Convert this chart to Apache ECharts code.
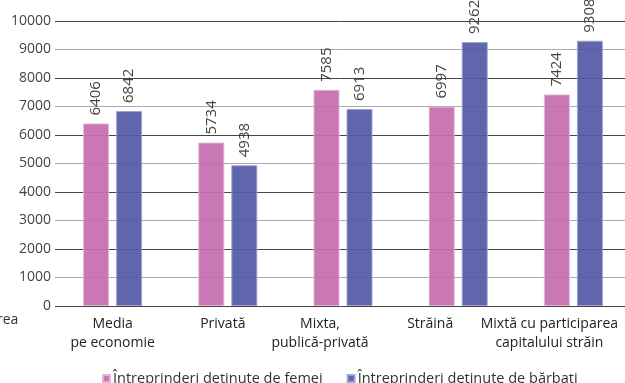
<!DOCTYPE html>
<html>
<head>
<meta charset="utf-8">
<script src="https://cdn.jsdelivr.net/npm/echarts@6/dist/echarts.min.js"></script>
<style>
  html, body { margin: 0; padding: 0; background: #fff; }
  #chart { width: 625px; height: 383px; }
</style>
</head>
<body>
<div id="chart"></div>
<script>
const categories = [
  "Media\npe economie",
  "Privată",
  "Mixta,\npublică-privată",
  "Străină",
  "Mixtă cu participarea\ncapitalului străin"
];
const seriesNames = ["Întreprinderi deținute de femei", "Întreprinderi deținute de bărbați"];
const women = [6406, 5734, 7585, 6997, 7424];
const men = [6842, 4938, 6913, 9262, 9308];

// how far each category label sits left of its bar pair in the original
const labelShift = [0, 5, 23, 28, 24];

const font = "'Open Sans', sans-serif";
const myChart = echarts.init(document.getElementById("chart"));

const labelStyle = {
  show: true,
  position: "top",
  rotate: 90,
  align: "left",
  verticalAlign: "middle",
  distance: 8,
  color: "#333",
  fontSize: 15,
  fontFamily: font
};

const option = {
  animation: false,
  color: ["#c46cae", "#5159a4"],
  grid: { left: 55, top: 21, width: 576, bottom: 77, outerBoundsMode: "none", containLabel: false },
  legend: {
    top: 366,
    left: 97,
    itemWidth: 7,
    itemHeight: 7,
    itemGap: 24,
    icon: "rect",
    textStyle: { fontSize: 14.5, color: "#333", fontFamily: font, padding: [0, 0, 0, -2] },
    data: seriesNames
  },
  graphic: [
    {
      type: "text",
      left: -3,
      top: 313,
      style: { text: "rea", fontSize: 14, fill: "#333", fontFamily: font }
    }
  ],
  xAxis: {
    type: "category",
    data: categories.map((c, i) => ({
      value: c,
      textStyle: { padding: [0, labelShift[i] * 2, 0, 0] }
    })),
    axisTick: { show: false },
    axisLine: { show: false },
    axisLabel: {
      interval: 0,
      margin: 9,
      color: "#222",
      fontSize: 14,
      lineHeight: 19,
      fontFamily: font,
      hideOverlap: false
    }
  },
  yAxis: {
    type: "value",
    min: 0,
    max: 10000,
    interval: 1000,
    axisLine: { show: false },
    axisTick: { show: false },
    axisLabel: {
      margin: 4,
      color: "#444",
      fontSize: 14,
      fontFamily: font,
      formatter: (v) => String(v)
    },
    splitLine: { lineStyle: { color: ["#444", "#aaa"], width: 1 } }
  },
  series: [
    {
      name: seriesNames[0],
      type: "bar",
      data: women,
      barWidth: 26,
      barGap: "27%",
      itemStyle: { opacity: 0.92, borderColor: "#e3b5d8", borderWidth: 1 },
      label: labelStyle
    },
    {
      name: seriesNames[1],
      type: "bar",
      data: men,
      barWidth: 26,
      itemStyle: { opacity: 0.92, borderColor: "#9da2cf", borderWidth: 1 },
      label: labelStyle
    }
  ]
};

myChart.setOption(option);
</script>
</body>
</html>
